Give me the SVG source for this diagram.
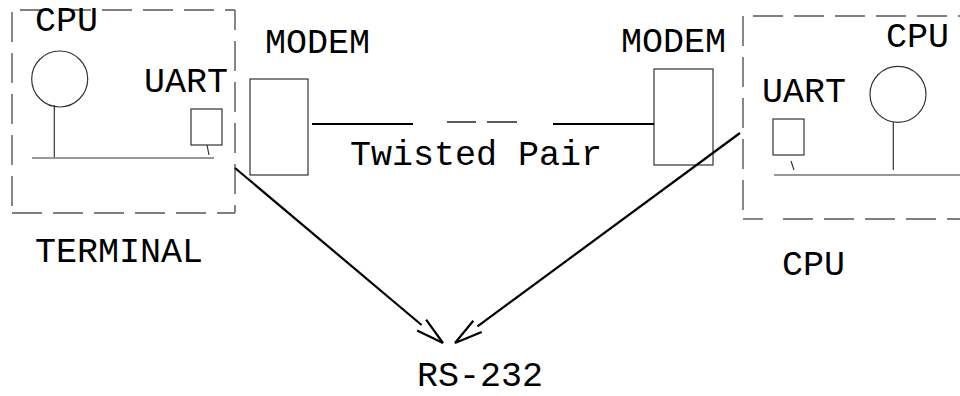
<svg xmlns="http://www.w3.org/2000/svg" width="960" height="396" viewBox="0 0 960 396">
<style>
text{font-family:"Liberation Mono","DejaVu Sans Mono",monospace;font-size:35px;fill:#000}
.thin{fill:none;stroke:#333;stroke-width:1.2}
.dash{fill:none;stroke:#555;stroke-width:1.4;stroke-dasharray:30 11}
.solidb{fill:none;stroke:#555;stroke-width:1.4}
.thick{fill:none;stroke:#000;stroke-width:2.2}
.tdash{fill:none;stroke:#000;stroke-width:1.3}
</style>
<rect width="960" height="396" fill="#fff"/>
<g id="terminal">
<line class="dash" x1="20" y1="10" x2="235" y2="10"/>
<line class="dash" x1="235" y1="10" x2="235" y2="213" stroke-dashoffset="10"/>
<line class="dash" x1="12" y1="213" x2="235" y2="213"/>
<line class="dash" x1="12" y1="12" x2="12" y2="213"/>
<text x="35" y="31">CPU</text>
<circle class="thin" cx="59.7" cy="79" r="28"/>
<line class="thin" x1="54.3" y1="105" x2="54.3" y2="157"/>
<line class="thin" x1="32" y1="158" x2="214" y2="158"/>
<text x="144" y="92">UART</text>
<rect class="thin" x="191" y="109" width="31" height="36"/>
<line class="thin" x1="207" y1="145" x2="209" y2="155"/>
<text x="35" y="262">TERMINAL</text>
</g>
<g id="modem-left">
<text x="265" y="53">MODEM</text>
<rect class="thin" x="250" y="79" width="58" height="96"/>
</g>
<g id="modem-right">
<text x="621" y="52">MODEM</text>
<rect class="thin" x="654" y="69" width="59" height="96"/>
</g>
<g id="cpu-right">
<line class="dash" x1="753" y1="16" x2="970" y2="16"/>
<line class="dash" x1="743" y1="16" x2="743" y2="219"/>
<line class="solidb" x1="743" y1="219" x2="763" y2="219"/>
<line class="dash" x1="783" y1="219" x2="970" y2="219"/>
<text x="886" y="47">CPU</text>
<circle class="thin" cx="898" cy="94.3" r="28"/>
<line class="thin" x1="893.3" y1="122" x2="893.3" y2="170"/>
<line class="thin" x1="774" y1="175" x2="960" y2="175"/>
<text x="762" y="102">UART</text>
<rect class="thin" x="773" y="119" width="31" height="36"/>
<line class="thin" x1="791" y1="161" x2="794" y2="170"/>
<text x="782" y="275">CPU</text>
</g>
<g id="rs232">
<text x="417" y="386">RS-232</text>
</g>
<g id="connectors">
<line class="thick" x1="312" y1="124" x2="413" y2="124"/>
<line class="tdash" x1="447" y1="122" x2="476" y2="122"/>
<line class="tdash" x1="487" y1="122" x2="517" y2="122"/>
<line class="thick" x1="553" y1="124" x2="654" y2="124"/>
<text x="350" y="165">Twisted Pair</text>
<line class="thick" x1="235" y1="168" x2="421.6" y2="325"/>
<polyline class="thick" points="426.1,319.6 443,343 417.1,330.4"/>
<line class="thick" x1="740" y1="133" x2="477.5" y2="326.4"/>
<polyline class="thick" points="473.3,320.8 455,343 481.7,332"/>
</g>
</svg>
